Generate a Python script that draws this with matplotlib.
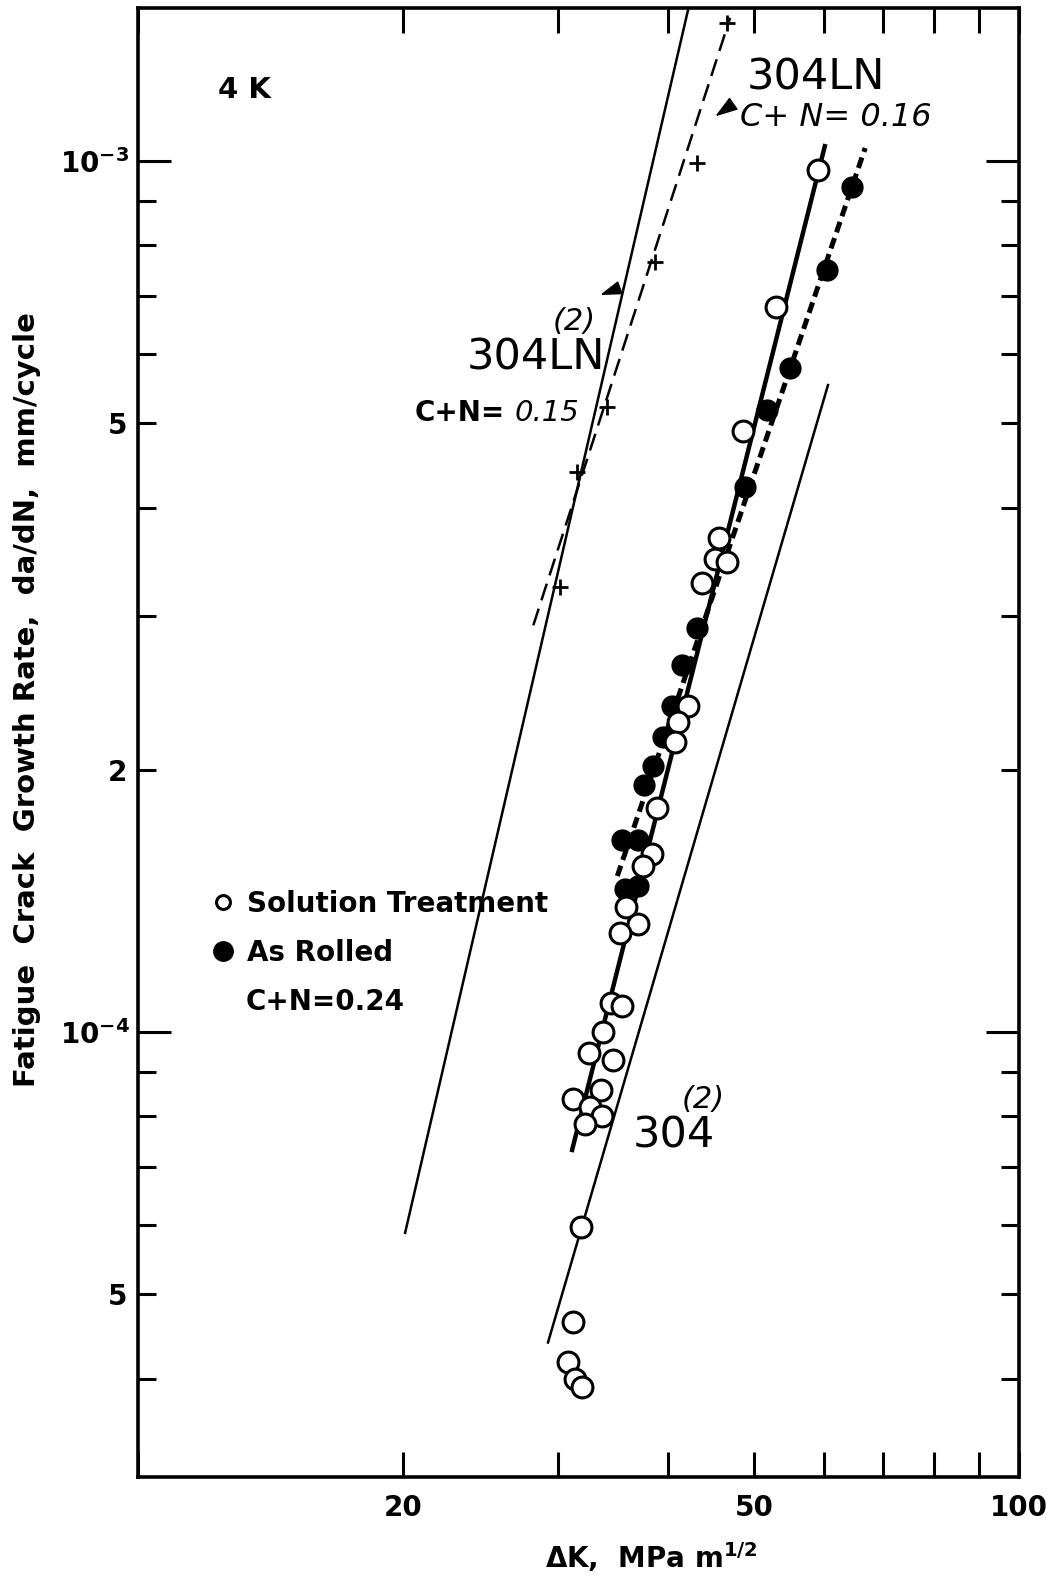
import numpy as np
import matplotlib
matplotlib.use('Agg')
import matplotlib.pyplot as plt
from matplotlib.lines import Line2D
from matplotlib.ticker import LogLocator, FuncFormatter

#Data (dK in MPa m^1/2, da/dN in mm/cycle)
st_dk = [59.1, 53.0, 48.6, 45.6, 45.2, 46.6, 43.7, 42.1, 41.0, 40.7, 38.8, 38.3, 37.4, 35.8, 36.9, 35.2,
         34.4, 35.4, 33.7, 32.5, 34.6, 33.5, 31.2, 32.6, 33.6, 32.2, 31.8, 31.2, 30.8, 31.3, 31.9]
st_rate = [9.76e-4, 6.80e-4, 4.90e-4, 3.69e-4, 3.49e-4, 3.46e-4, 3.28e-4, 2.37e-4, 2.27e-4, 2.15e-4,
           1.81e-4, 1.60e-4, 1.55e-4, 1.39e-4, 1.33e-4, 1.30e-4, 1.08e-4, 1.07e-4, 1.00e-4, 9.46e-5,
           9.29e-5, 8.58e-5, 8.38e-5, 8.20e-5, 8.01e-5, 7.84e-5, 5.97e-5, 4.65e-5, 4.18e-5, 4.00e-5, 3.91e-5]

ar_dk = [64.6, 60.5, 55.0, 51.8, 48.9, 43.1, 41.4, 40.4, 39.4, 38.4, 37.5, 35.4, 36.9, 35.7, 36.9]
ar_rate = [9.33e-4, 7.50e-4, 5.79e-4, 5.18e-4, 4.22e-4, 2.91e-4, 2.64e-4, 2.37e-4, 2.18e-4, 2.02e-4,
           1.92e-4, 1.66e-4, 1.66e-4, 1.46e-4, 1.47e-4]

ln16_dk = [46.6, 43.1, 38.6, 34.1, 31.5, 30.1]
ln16_rate = [1.44e-3, 9.95e-4, 7.66e-4, 5.22e-4, 4.40e-4, 3.24e-4]

#Fitted / reference lines, end points
line_304ln15_dk = [20.1, 42.1]
line_304ln15_rate = [5.88e-5, 1.49e-3]
line_304ln16_dk = [28.1, 47.0]
line_304ln16_rate = [2.93e-4, 1.46e-3]
line_304_dk = [29.2, 60.7]
line_304_rate = [4.40e-5, 5.53e-4]
line_st_dk = [31.1, 60.2]
line_st_rate = [7.32e-5, 1.04e-3]
line_ar_dk = [35.0, 66.9]
line_ar_rate = [1.51e-4, 1.035e-3]

#Arrowheads (x, y, pointing angle in deg)
arrow_dk = [46.5, 34.5]
arrow_rate = [1.15e-3, 7.11e-4]
arrow_angle = [215, 200]

x_tick_labels = {20: '20', 50: '50', 100: '100'}
y_tick_labels = {1e-3: r'$\mathbf{10^{-3}}$', 5e-4: '5', 2e-4: '2', 1e-4: r'$\mathbf{10^{-4}}$', 5e-5: '5'}

plt.rcParams['font.family'] = ['DejaVu Sans']

fig = plt.figure(figsize=(10.46, 15.76), dpi=100)
ax = fig.add_axes([138/1046, 99/1576, 881/1046, 1469/1576])
ax.set_xscale('log')
ax.set_yscale('log')
ax.set_xlim(10, 100)
ax.set_ylim(3.083e-5, 1.4985e-3)

#Lines
ax.plot(line_304ln15_dk, line_304ln15_rate, color='black', lw=1.8, zorder=2)
ax.plot(line_304ln16_dk, line_304ln16_rate, color='black', lw=1.8, dashes=(7, 3.5), zorder=2)
ax.plot(line_304_dk, line_304_rate, color='black', lw=1.8, zorder=2)
ax.plot(line_st_dk, line_st_rate, color='black', lw=3.2, zorder=2)
ax.plot(line_ar_dk, line_ar_rate, color='black', lw=3.6, dashes=(2.2, 1.2), zorder=2)

#Points
ax.plot(ln16_dk, ln16_rate, '+', color='black', ms=12, mew=2, zorder=3)
ax.plot(ar_dk, ar_rate, 'o', color='black', ms=15, zorder=3)
ax.plot(st_dk, st_rate, 'o', mfc='white', mec='black', ms=15, mew=2.2, zorder=4)

#wedge shaped arrowheads
for x, y, a in zip(arrow_dk, arrow_rate, arrow_angle):
    t = np.deg2rad(a)
    base = np.array([[1.0, 0.0], [-0.7, 0.55], [-0.7, -0.55], [1.0, 0.0]])
    rot = np.array([[np.cos(t), -np.sin(t)], [np.sin(t), np.cos(t)]])
    ax.plot(x, y, marker=base @ rot.T, color='black', ms=15, zorder=3)

#Ticks
def fmt_factory(labels):
    def fmt(v, pos):
        for k, s in labels.items():
            if abs(v - k) / k < 1e-3:
                return s
        return ''
    return fmt

ax.xaxis.set_major_locator(LogLocator(base=10, numticks=10))
ax.xaxis.set_minor_locator(LogLocator(base=10, subs=np.arange(2, 10), numticks=20))
ax.yaxis.set_major_locator(LogLocator(base=10, numticks=10))
ax.yaxis.set_minor_locator(LogLocator(base=10, subs=np.arange(2, 10), numticks=20))
ax.xaxis.set_major_formatter(FuncFormatter(fmt_factory(x_tick_labels)))
ax.xaxis.set_minor_formatter(FuncFormatter(fmt_factory(x_tick_labels)))
ax.yaxis.set_major_formatter(FuncFormatter(fmt_factory(y_tick_labels)))
ax.yaxis.set_minor_formatter(FuncFormatter(fmt_factory(y_tick_labels)))

ax.tick_params(which='both', direction='in', top=True, right=True, width=2.2, labelsize=20)
ax.tick_params(axis='y', which='major', length=24, pad=6)
ax.tick_params(axis='y', which='minor', length=13, pad=8)
ax.tick_params(axis='x', which='both', length=18, pad=12)
for lbl in ax.get_xticklabels(which='both') + ax.get_yticklabels(which='both'):
    lbl.set_fontweight('bold')
for s in ax.spines.values():
    s.set_linewidth(2.6)

#Labels
fig.text(27/1046, 1 - 700/1576, 'Fatigue  Crack  Growth Rate,  da/dN,  mm/cycle',
         rotation=90, ha='center', va='center', fontsize=21, fontweight='bold')
fig.text(651/1046, 1 - 1557/1576, r'$\mathbf{\Delta}$K,  MPa m$^{\mathbf{1/2}}$', ha='center', va='center',
         fontsize=20, fontweight='bold')

def axfrac(px, py):
    return (px - 138) / 881, (1477 - py) / 1469

ax.text(*axfrac(218, 90), '4 K', fontsize=21, fontweight='bold', va='center', transform=ax.transAxes)
ax.text(*axfrac(747, 77), '304LN', fontsize=31, va='center', transform=ax.transAxes)
ax.text(*axfrac(740, 118), 'C+ N= 0.16', fontsize=23, style='italic', va='center', transform=ax.transAxes)
ax.text(*axfrac(553, 322), '(2)', fontsize=22, style='italic', va='center', transform=ax.transAxes)
ax.text(*axfrac(467, 358), '304LN', fontsize=31, va='center', transform=ax.transAxes)
ax.text(*axfrac(415, 413), 'C+N=', fontsize=20, fontweight='bold', va='center', transform=ax.transAxes)
ax.text(*axfrac(515, 413), '0.15', fontsize=21, style='italic', va='center', transform=ax.transAxes)
ax.text(*axfrac(682, 1100), '(2)', fontsize=22, style='italic', va='center', transform=ax.transAxes)
ax.text(*axfrac(633, 1136), '304', fontsize=31, va='center', transform=ax.transAxes)
ax.text(*axfrac(246, 1002), 'C+N=0.24', fontsize=20, fontweight='bold', va='center', transform=ax.transAxes)

handles = [Line2D([], [], ls='none', marker='o', mfc='white', mec='black', ms=10, mew=2.2),
           Line2D([], [], ls='none', marker='o', color='black', ms=14)]
ax.legend(handles, ['Solution Treatment', 'As Rolled'], loc='upper left',
          bbox_to_anchor=axfrac(212, 890), frameon=False,
          prop={'size': 20, 'weight': 'bold'},
          handlelength=0.8, handletextpad=0.45, labelspacing=0.75, borderpad=0, borderaxespad=0)

fig.savefig('out.png', dpi=100)
